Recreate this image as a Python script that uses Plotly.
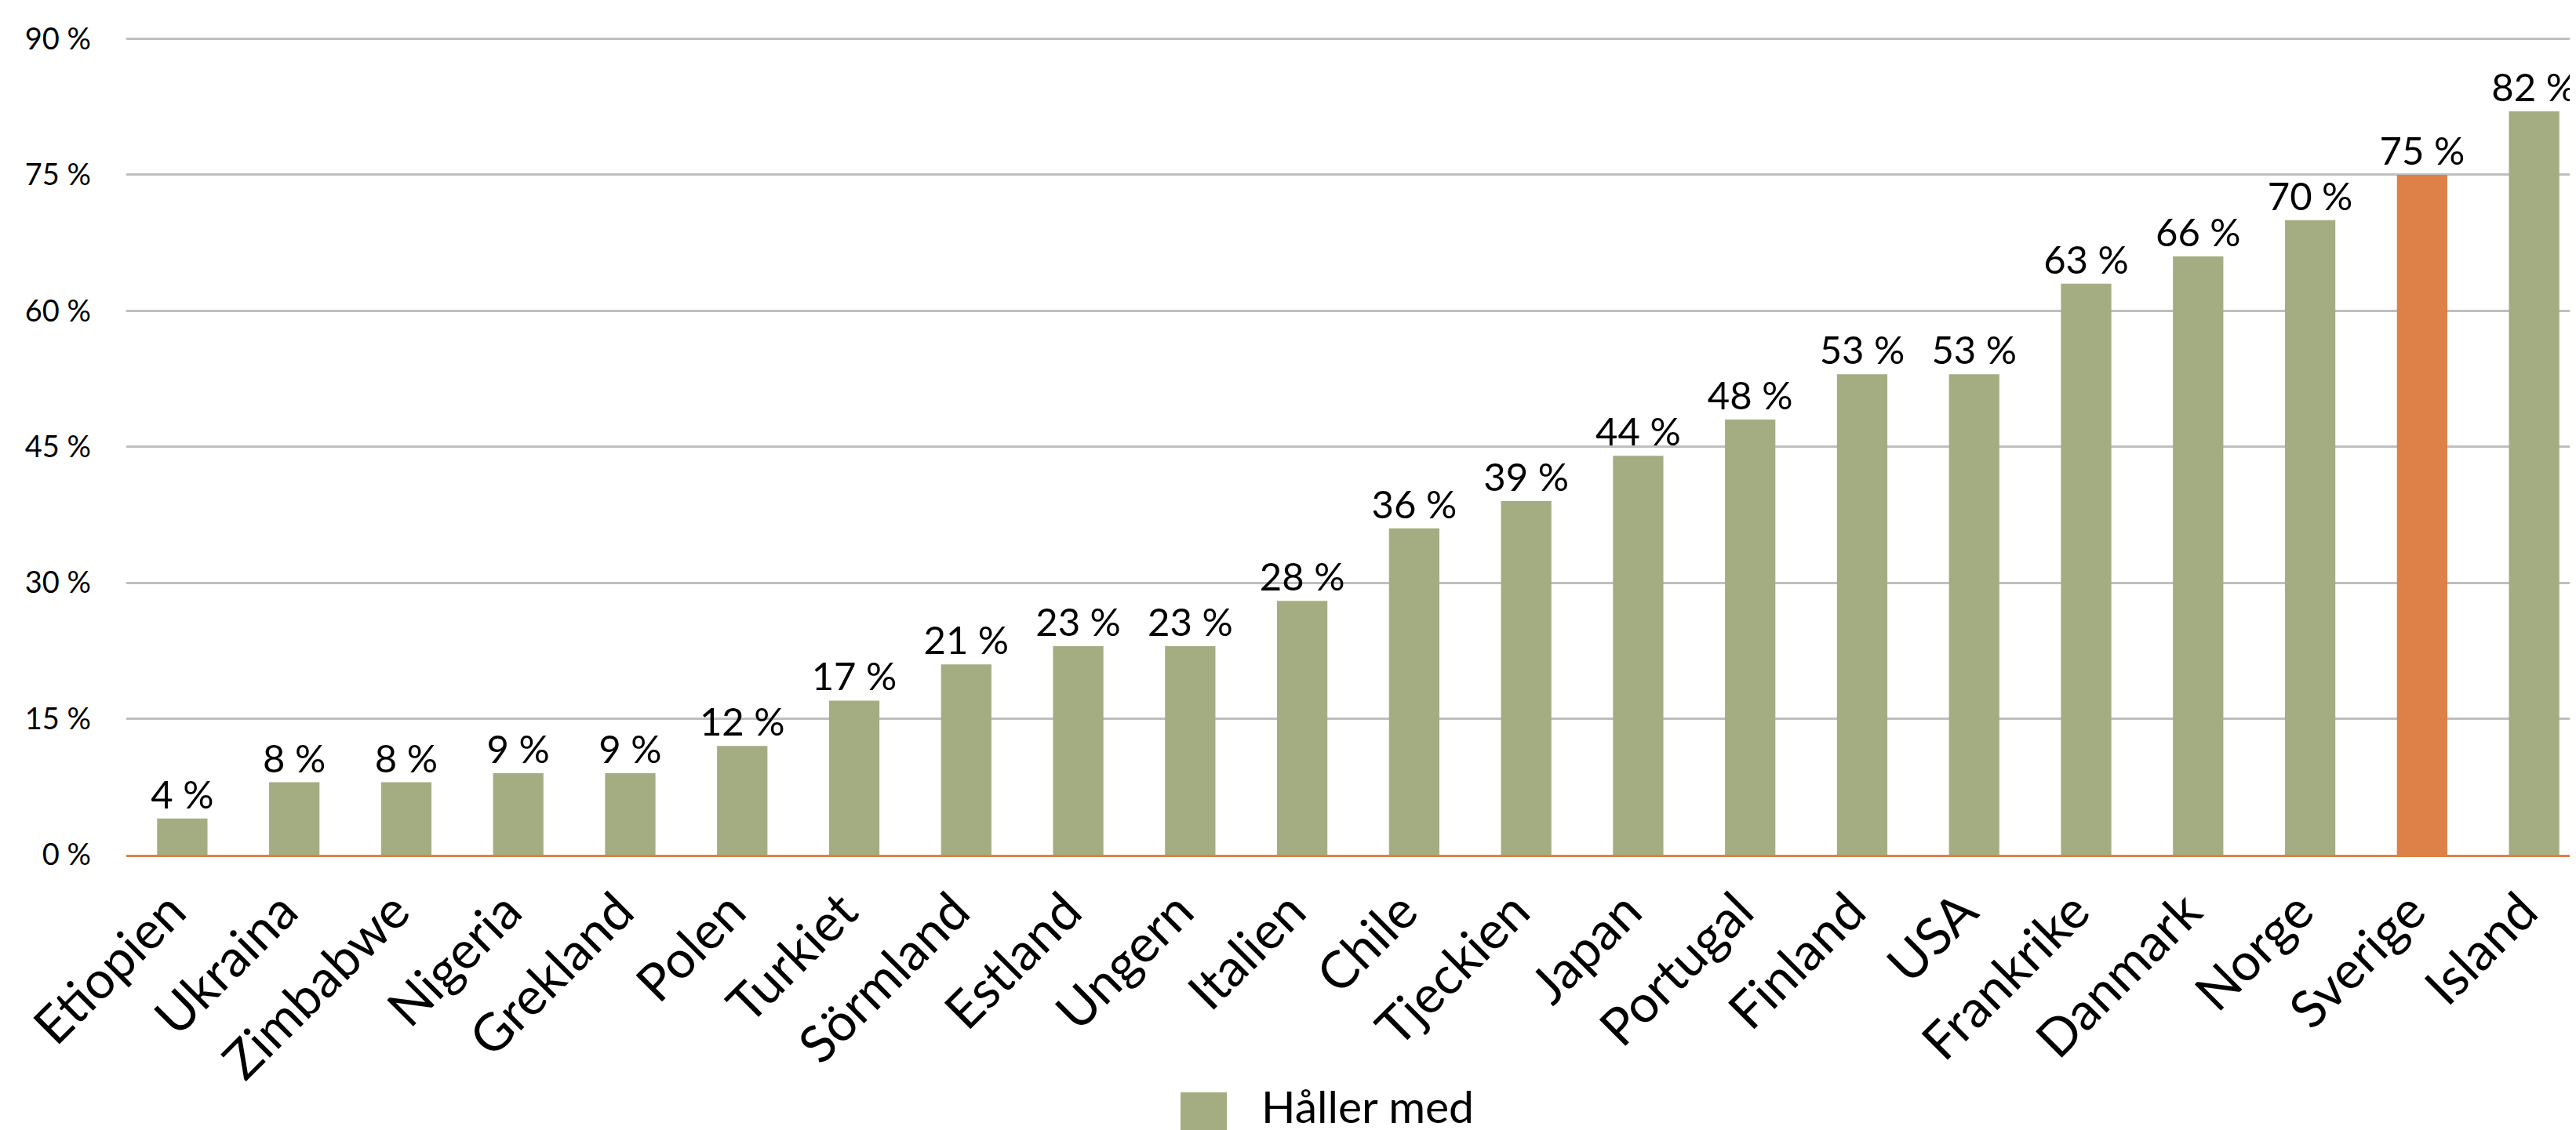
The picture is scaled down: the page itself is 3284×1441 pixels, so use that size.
import plotly.graph_objects as go

countries = ["Etiopien", "Ukraina", "Zimbabwe", "Nigeria", "Grekland", "Polen", "Turkiet",
             "Sörmland", "Estland", "Ungern", "Italien", "Chile", "Tjeckien", "Japan",
             "Portugal", "Finland", "USA", "Frankrike", "Danmark", "Norge", "Sverige", "Island"]
values = [4, 8, 8, 9, 9, 12, 17, 21, 23, 23, 28, 36, 39, 44, 48, 53, 53, 63, 66, 70, 75, 82]
series_name = "Håller med"
highlight = "Sverige"
y_ticks = [0, 15, 30, 45, 60, 75, 90]
y_tick_labels = ["0 %", "15 %", "30 %", "45 %", "60 %", "75 %", "90 %"]

GREEN = "#A4AD81"
ORANGE = "#DD8149"
FONT = "Lato"

W, H = 3284, 1441
L, R, T, B = 153, 0, 38, 359

colors = [ORANGE if c == highlight else GREEN for c in countries]

fig = go.Figure()
fig.add_trace(go.Bar(
    x=countries, y=values, name=series_name,
    marker=dict(color=colors, line=dict(width=0)),
    text=[f"{v} %" for v in values],
    textposition="outside", cliponaxis=False, constraintext="none",
    textfont=dict(family=FONT, size=49, color="#000000"),
    width=0.45, showlegend=False,
))

fig.update_layout(
    width=W, height=H,
    margin=dict(l=L, r=R, t=T, b=B, pad=0),
    plot_bgcolor="white", paper_bgcolor="white",
    font=dict(family=FONT, color="#000000"),
    uniformtext=dict(mode=False),
    xaxis=dict(
        range=[-0.5, 21.43], tickangle=-45,
        tickfont=dict(family=FONT, size=66, color="#000000"),
        showgrid=False, showline=True, linecolor=ORANGE, linewidth=3,
        ticks="", ticklabelstandoff=4, ticklabelshift=-15,
    ),
    yaxis=dict(
        range=[0, 90.3], tickvals=y_ticks, ticktext=y_tick_labels,
        tickfont=dict(family=FONT, size=38, color="#000000"),
        showgrid=True, gridcolor="#BFBFBF", gridwidth=2.5,
        zeroline=False, showline=False, ticks="", ticklabelstandoff=44,
    ),
)

# legend drawn as a swatch + text
pw, ph = W - L - R, H - T - B
def px_x(px):
    return (px - L) / pw
def px_y(py):
    return (H - B - py) / ph

fig.add_shape(type="rect", xref="paper", yref="paper",
              x0=px_x(1497), x1=px_x(1556), y0=px_y(1442), y1=px_y(1385),
              fillcolor=GREEN, line=dict(width=0))
fig.add_annotation(xref="paper", yref="paper", x=px_x(1598), y=px_y(1402),
                   xanchor="left", yanchor="middle", showarrow=False,
                   text=series_name, font=dict(family=FONT, size=57, color="#000000"))

fig.write_html("out.html")
